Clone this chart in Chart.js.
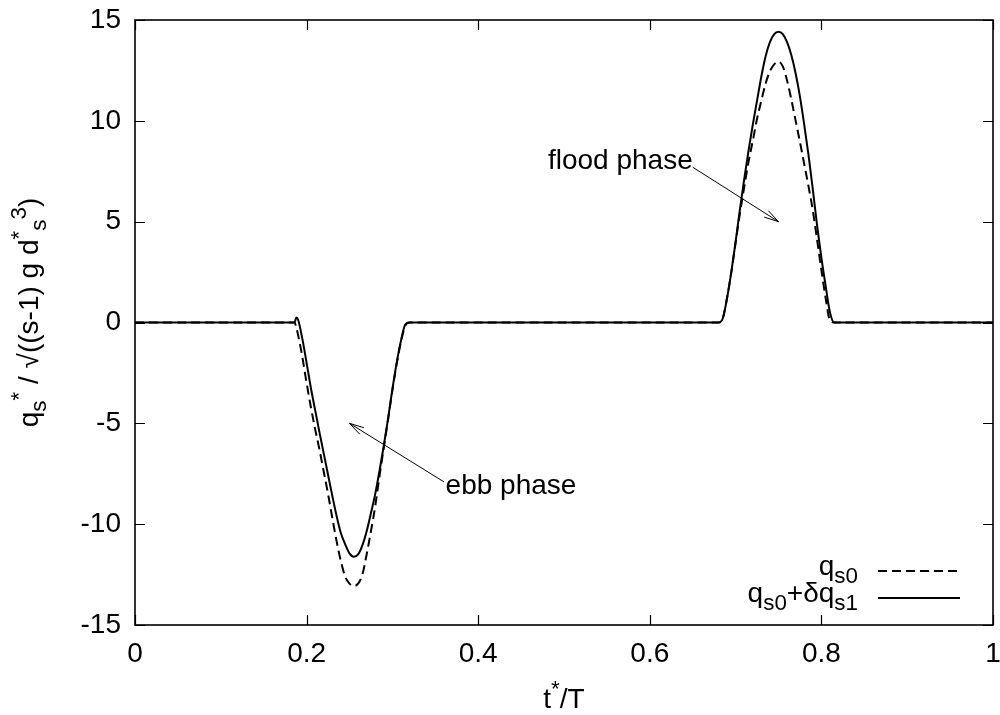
<!DOCTYPE html>
<html>
<head>
<meta charset="utf-8">
<title>sediment transport</title>
<script src="https://cdn.jsdelivr.net/npm/chart.js@4.4.1/dist/chart.umd.min.js"></script>
<style>
  html, body { margin: 0; padding: 0; background: #fff; }
  #wrap { width: 1000px; height: 715px; position: relative; }
</style>
</head>
<body>
<div id="wrap"><canvas id="qsChart"></canvas></div>
<script>
const tValues = [
  0, 0.18, 0.186, 0.188, 0.19, 0.195, 0.2, 0.205, 0.21, 0.215, 0.22, 0.225, 0.23, 0.235,
  0.24, 0.245, 0.25, 0.255, 0.26, 0.265, 0.27, 0.275, 0.28, 0.285, 0.29, 0.295, 0.3,
  0.305, 0.31, 0.315, 0.32,
  0.68, 0.685, 0.69, 0.695, 0.7, 0.705, 0.71, 0.715, 0.72, 0.725, 0.73, 0.735, 0.74,
  0.745, 0.75, 0.755, 0.76, 0.765, 0.77, 0.775, 0.78, 0.785, 0.79, 0.795, 0.8, 0.805,
  0.81, 0.815, 1
];
const qs0 = [
  0, 0, 0, -0.25, -0.6, -1.7, -3.0, -4.2, -5.3, -6.3, -7.4, -8.5, -9.7, -10.85,
  -11.85, -12.6, -12.95, -13.07, -12.95, -12.5, -11.5, -10.35, -9.1, -7.6, -6.2, -4.8, -3.35,
  -2.05, -0.95, -0.15, 0,
  0, 0.2, 1.2, 2.5, 3.95, 5.4, 6.7, 7.95, 9.0, 10.1, 11.0, 11.85, 12.45,
  12.8, 12.93, 12.7, 12.0, 11.05, 10.0, 8.95, 7.85, 6.75, 5.55, 4.1, 2.6, 1.2,
  0.1, 0, 0
];
const qs0PlusQs1 = [
  0, 0, 0, 0.25, 0.15, -0.8, -2.0, -3.25, -4.35, -5.45, -6.5, -7.55, -8.6, -9.6,
  -10.45, -11.0, -11.45, -11.62, -11.5, -11.05, -10.35, -9.45, -8.5, -7.35, -6.1, -4.75, -3.3,
  -2.0, -0.9, -0.1, 0,
  0, 0.2, 1.2, 2.5, 4.0, 5.6, 7.1, 8.5, 9.8, 11.0, 12.2, 13.2, 13.9,
  14.3, 14.42, 14.3, 13.9, 13.25, 12.35, 11.2, 9.8, 8.3, 6.6, 4.8, 3.2, 1.8,
  0.5, 0, 0
];
const xTicks = [0, 0.2, 0.4, 0.6, 0.8, 1];
const yTicks = [-15, -10, -5, 0, 5, 10, 15];

const FONT = '"Liberation Sans", Arial, Helvetica, sans-serif';
const FS = 28;

function toPoints(xs, ys) {
  return xs.map((x, i) => ({ x: x, y: ys[i] }));
}

// draw text with sub/superscripts, parts: [text, mode] mode '', 'sub', 'sup'
function richWidth(ctx, parts, size) {
  let w = 0;
  parts.forEach(p => {
    const s = p[1] ? size * 0.8 : size;
    ctx.font = s + "px " + FONT;
    w += ctx.measureText(p[0]).width;
  });
  return w;
}
function drawRich(ctx, parts, x, y, size, align) {
  const w = richWidth(ctx, parts, size);
  let cx = x;
  if (align === "right") cx = x - w;
  if (align === "center") cx = x - w / 2;
  ctx.textBaseline = "alphabetic";
  ctx.textAlign = "left";
  parts.forEach(p => {
    const s = p[1] ? size * 0.8 : size;
    let dy = 0;
    if (p[1] === "sub") dy = size * 0.3;
    if (p[1] === "sup") dy = -size * 0.42;
    ctx.font = s + "px " + FONT;
    ctx.fillText(p[0], cx, y + dy);
    cx += ctx.measureText(p[0]).width;
  });
}

function arrow(ctx, x1, y1, x2, y2) {
  const ang = Math.atan2(y2 - y1, x2 - x1);
  const len = 15, spread = 0.26;
  ctx.beginPath();
  ctx.moveTo(x1, y1);
  ctx.lineTo(x2, y2);
  ctx.moveTo(x2 - len * Math.cos(ang - spread), y2 - len * Math.sin(ang - spread));
  ctx.lineTo(x2, y2);
  ctx.lineTo(x2 - len * Math.cos(ang + spread), y2 - len * Math.sin(ang + spread));
  ctx.stroke();
}

const gnuplotFrame = {
  id: "gnuplotFrame",
  afterDatasetsDraw(chart) {
    const ctx = chart.ctx;
    const a = chart.chartArea;
    const xs = chart.scales.x, ys = chart.scales.y;
    ctx.save();
    ctx.strokeStyle = "#000";
    ctx.fillStyle = "#000";

    // ticks, inward on all sides
    ctx.lineWidth = 1.2;
    ctx.beginPath();
    xTicks.forEach(v => {
      const px = Math.round(xs.getPixelForValue(v)) + 0.5;
      ctx.moveTo(px, a.bottom); ctx.lineTo(px, a.bottom - 10);
      ctx.moveTo(px, a.top); ctx.lineTo(px, a.top + 10);
    });
    yTicks.forEach(v => {
      const py = Math.round(ys.getPixelForValue(v)) + 0.5;
      ctx.moveTo(a.left, py); ctx.lineTo(a.left + 10, py);
      ctx.moveTo(a.right, py); ctx.lineTo(a.right - 10, py);
    });
    ctx.stroke();

    // frame
    ctx.lineWidth = 1.6;
    ctx.strokeRect(a.left, a.top, a.right - a.left, a.bottom - a.top);

    // annotations
    ctx.lineWidth = 1;
    arrow(ctx, xs.getPixelForValue(0.65), ys.getPixelForValue(7.7),
      xs.getPixelForValue(0.75), ys.getPixelForValue(5));
    arrow(ctx, xs.getPixelForValue(0.36), ys.getPixelForValue(-7.9),
      xs.getPixelForValue(0.25), ys.getPixelForValue(-5));
    ctx.font = FS + "px " + FONT;
    ctx.textBaseline = "middle";
    ctx.textAlign = "right";
    ctx.fillText("flood phase", xs.getPixelForValue(0.65), ys.getPixelForValue(8));
    ctx.textAlign = "left";
    ctx.fillText("ebb phase", xs.getPixelForValue(0.362), ys.getPixelForValue(-8.1));

    // legend
    const tx = a.right - 135;
    const row1 = a.bottom - 54, row2 = a.bottom - 27;
    drawRich(ctx, [["q", ""], ["s0", "sub"]], tx, row1 + 4, FS, "right");
    drawRich(ctx, [["q", ""], ["s0", "sub"], ["+δq", ""], ["s1", "sub"]], tx, row2 + 4, FS, "right");
    ctx.lineWidth = 2;
    ctx.setLineDash([9, 5]);
    ctx.beginPath();
    ctx.moveTo(a.right - 115, row1); ctx.lineTo(a.right - 33, row1);
    ctx.stroke();
    ctx.setLineDash([]);
    ctx.beginPath();
    ctx.moveTo(a.right - 115, row2); ctx.lineTo(a.right - 33, row2);
    ctx.stroke();

    // axis titles
    drawRich(ctx, [["t", ""], ["*", "sup"], ["/T", ""]], (a.left + a.right) / 2, 708, FS, "center");
    ctx.translate(38, (a.top + a.bottom) / 2 - 10);
    ctx.rotate(-Math.PI / 2);
    drawRich(ctx, [["q", ""], ["s", "sub"], ["*", "sup"], [" / √((s-1) g d", ""], ["*", "sup"],
      ["s", "sub"], ["3", "sup"], [")", ""]], 0, 0, FS, "center");
    ctx.restore();
  }
};

const ctx = document.getElementById("qsChart").getContext("2d");
new Chart(ctx, {
  type: "line",
  data: {
    datasets: [
      {
        label: "qs0",
        data: toPoints(tValues, qs0),
        borderColor: "#000",
        borderWidth: 2,
        borderDash: [9, 5],
        pointRadius: 0,
        cubicInterpolationMode: "monotone",
        fill: false,
      },
      {
        label: "qs0+dqs1",
        data: toPoints(tValues, qs0PlusQs1),
        borderColor: "#000",
        borderWidth: 2,
        pointRadius: 0,
        cubicInterpolationMode: "monotone",
        fill: false,
      },
    ],
  },
  options: {
    responsive: true,
    maintainAspectRatio: false,
    animation: false,
    layout: { padding: { left: 0, right: 7, top: 20, bottom: 0 } },
    plugins: {
      legend: { display: false },
      tooltip: { enabled: false },
    },
    scales: {
      x: {
        type: "linear",
        min: 0,
        max: 1,
        afterFit: (s) => { s.height = 90; s.paddingLeft = 0; s.paddingRight = 0; },
        afterBuildTicks: (s) => { s.ticks = xTicks.map(v => ({ value: v })); },
        grid: { display: false, drawTicks: false },
        border: { display: false },
        ticks: {
          color: "#000",
          padding: 12,
          maxRotation: 0,
          font: { family: FONT, size: FS },
          callback: (v) => String(Math.round(v * 10) / 10),
        },
      },
      y: {
        type: "linear",
        min: -15,
        max: 15,
        afterFit: (s) => { s.width = 135; s.paddingTop = 0; s.paddingBottom = 0; },
        afterBuildTicks: (s) => { s.ticks = yTicks.map(v => ({ value: v })); },
        grid: { display: false, drawTicks: false },
        border: { display: false },
        ticks: {
          color: "#000",
          padding: 14,
          font: { family: FONT, size: FS },
          callback: (v) => String(v),
        },
      },
    },
  },
  plugins: [gnuplotFrame],
});
</script>
</body>
</html>
